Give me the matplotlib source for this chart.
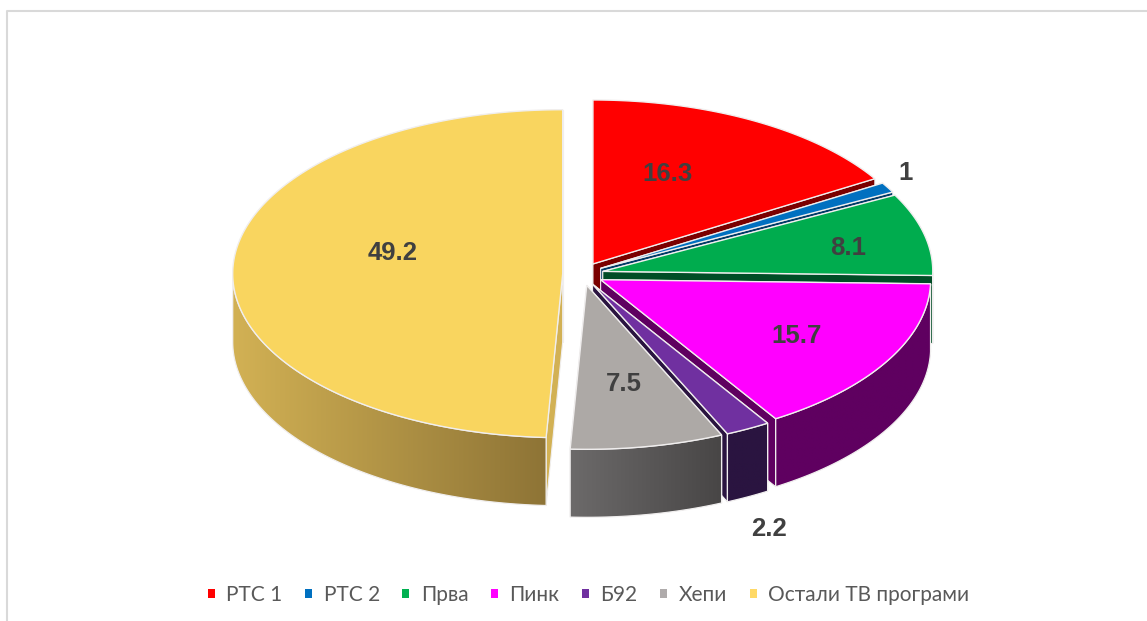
import numpy as np
import matplotlib
matplotlib.use("Agg")
import matplotlib.pyplot as plt
from matplotlib.colors import to_rgb
from matplotlib.patches import Patch, Polygon

categories = ["РТС 1", "РТС 2", "Прва", "Пинк", "Б92", "Хепи", "Остали ТВ програми"]
values = [16.3, 1, 8.1, 15.7, 2.2, 7.5, 49.2]
label_text = ["16.3", "1", "8.1", "15.7", "2.2", "7.5", "49.2"]
top_colors = ["#ff0000", "#0070c0", "#00ac4e", "#ff00ff", "#7030a0", "#ada9a6", "#f9d55f"]
legend_colors = ["#ff0000", "#0070c0", "#00b050", "#ff00ff", "#7030a0", "#afabab", "#ffd966"]
side_left = ["#7a0000", "#003a66", "#004d26", "#5f0060", "#2a1440", "#6c6a6a", "#d2b154"]
side_right = ["#7a0000", "#003a66", "#004d26", "#5f0060", "#2a1440", "#484646", "#8e7436"]
label_xy = [(667, 174), (906, 173), (848, 248), (797, 336), (769, 529), (624, 384), (393, 253)]

CX, CY, A, B, DEPTH = 583.0, 274.0, 330.0, 164.0, 68.0
EX, EY = 20.3, 11.5

fig = plt.figure(figsize=(11.47, 6.21), dpi=100)
ax = fig.add_axes([0, 0, 1, 1])
ax.axis("off")

ax.plot([7, 7, 1147], [621, 11, 11], color="#d9d9d9", lw=1.5, solid_capstyle="butt")

total = sum(values)
edges = np.cumsum([0] + values) / total * 2 * np.pi
edge_col = "#f0eeee"


def draw_wedge(i):
    t0, t1 = edges[i], edges[i + 1]
    tm = (t0 + t1) / 2
    ax0 = CX + EX * np.sin(tm)
    ay0 = CY - EY * np.cos(tm)
    t = np.linspace(t0, t1, max(8, int((t1 - t0) * 120)))
    x = ax0 + A * np.sin(t)
    y = ay0 - B * np.cos(t)
    # radial cut faces
    for k in (0, -1):
        face = [(ax0, ay0), (x[k], y[k]), (x[k], y[k] + DEPTH), (ax0, ay0 + DEPTH)]
        ax.add_patch(Polygon(face, fc=side_left[i], ec=edge_col, lw=0.8, zorder=i * 3 + 1))
    # front part of the outer rim, with a horizontal gradient
    front = (t >= np.pi / 2) & (t <= 3 * np.pi / 2)
    if front.sum() >= 2:
        fx, fy = x[front], y[front]
        outline = np.column_stack([np.r_[fx, fx[::-1]], np.r_[fy, fy[::-1] + DEPTH]])
        rim = Polygon(outline, fc="none", ec=edge_col, lw=0.9, zorder=i * 3 + 2)
        ax.add_patch(rim)
        ramp = np.linspace(0, 1, 128)[None, :, None]
        cl, cr = np.array(to_rgb(side_left[i])), np.array(to_rgb(side_right[i]))
        img = ax.imshow(cl + (cr - cl) * ramp, aspect="auto", interpolation="bilinear",
                        extent=(fx.min(), fx.max(), (fy + DEPTH).max(), fy.min()),
                        zorder=i * 3 + 1.5)
        img.set_clip_path(rim)
    # top surface
    top = np.column_stack([np.r_[ax0, x], np.r_[ay0, y]])
    ax.add_patch(Polygon(top, fc=top_colors[i], ec=edge_col, lw=1.0, zorder=i * 3 + 3))


for i in range(len(values)):
    draw_wedge(i)

ax.set_xlim(0, 1147)
ax.set_ylim(621, 0)

for (lx, ly), s in zip(label_xy, label_text):
    ax.text(lx, ly, s, ha="center", va="center", fontsize=18.5, fontweight="bold",
            family="Liberation Sans", color="#404040", zorder=40)

handles = [Patch(fc=c, ec="none", label=n) for c, n in zip(legend_colors, categories)]
ax.legend(handles=handles, ncol=7, loc="center", bbox_to_anchor=(588.5 / 1147, 1 - 595 / 621),
          frameon=False, prop={"family": "Lato", "size": 15}, labelcolor="#595959",
          handlelength=0.34, handleheight=0.34, handletextpad=0.55, columnspacing=1.08,
          borderpad=0, borderaxespad=0)

fig.savefig("out.png", dpi=100)
